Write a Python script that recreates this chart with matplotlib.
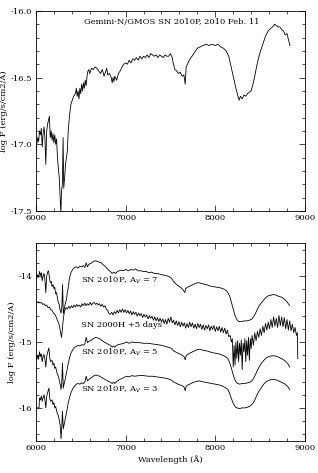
"""
Gemini-N/GMOS spectrum of SN 2010P and comparison with SN 2000H.
"""
import numpy as np
import matplotlib.pyplot as plt
from matplotlib.ticker import MultipleLocator

plt.rcParams['font.family'] = 'DejaVu Serif'
plt.rcParams['font.size'] = 6
plt.rcParams['axes.unicode_minus'] = False

# --- top panel: SN 2010P, 2010 Feb. 11 (wavelength in A, log F) ---
wave_2010p = [6000, 6010, 6020, 6030, 6040, 6050, 6060, 6070, 6080, 6090, 6100, 6110,
              6120, 6130, 6140, 6150, 6160, 6170, 6180, 6190, 6200, 6210, 6220, 6230,
              6240, 6250, 6260, 6270, 6278, 6285, 6295, 6303, 6310, 6320, 6330, 6340,
              6350, 6360, 6370, 6380, 6390, 6400, 6420, 6440, 6450, 6460, 6470, 6480,
              6490, 6500, 6510, 6520, 6530, 6540, 6550, 6560, 6570, 6580, 6590, 6600,
              6620, 6640, 6660, 6680, 6700, 6720, 6740, 6760, 6780, 6790, 6800, 6820,
              6840, 6850, 6860, 6870, 6880, 6900, 6920, 6940, 6960, 6980, 7000, 7020,
              7040, 7060, 7080, 7100, 7120, 7140, 7160, 7180, 7200, 7220, 7240, 7260,
              7280, 7300, 7320, 7340, 7360, 7380, 7400, 7420, 7440, 7460, 7480, 7500,
              7520, 7530, 7550, 7570, 7590, 7610, 7630, 7650, 7665, 7675, 7690, 7710,
              7740, 7770, 7800, 7830, 7860, 7900, 7930, 7960, 8000, 8030, 8060, 8090,
              8120, 8150, 8170, 8190, 8210, 8230, 8250, 8265, 8280, 8300, 8320, 8340,
              8360, 8380, 8400, 8420, 8440, 8460, 8480, 8500, 8530, 8560, 8590, 8620,
              8640, 8660, 8680, 8700, 8720, 8740, 8760, 8780, 8800, 8810, 8833]
flux_2010p = [-17.05, -17.00, -16.95, -16.98, -16.90, -16.93, -16.88, -17.02, -16.92, -16.87,
              -16.95, -17.15, -16.90, -16.85, -16.82, -16.79, -16.95, -16.90, -16.97, -16.92,
              -16.99, -16.93, -17.00, -16.96, -17.10, -17.18, -17.25, -17.40, -17.52, -17.35,
              -17.30, -16.95, -17.33, -17.25, -17.15, -17.10, -17.05, -16.90, -16.82, -16.75,
              -16.70, -16.68, -16.64, -16.62, -16.58, -16.64, -16.60, -16.66, -16.58, -16.62,
              -16.55, -16.60, -16.54, -16.58, -16.52, -16.56, -16.49, -16.45, -16.44, -16.47,
              -16.43, -16.44, -16.42, -16.43, -16.45, -16.47, -16.44, -16.49, -16.45, -16.43,
              -16.48, -16.47, -16.50, -16.54, -16.50, -16.53, -16.49, -16.52, -16.47, -16.45,
              -16.42, -16.40, -16.39, -16.40, -16.37, -16.39, -16.36, -16.37, -16.35, -16.37,
              -16.34, -16.36, -16.34, -16.35, -16.33, -16.35, -16.32, -16.33, -16.34, -16.33,
              -16.35, -16.33, -16.34, -16.35, -16.33, -16.34, -16.34, -16.32, -16.35, -16.39,
              -16.44, -16.45, -16.47, -16.46, -16.49, -16.48, -16.55, -16.42, -16.40, -16.37,
              -16.34, -16.31, -16.28, -16.27, -16.26, -16.25, -16.26, -16.25, -16.26, -16.25,
              -16.27, -16.28, -16.30, -16.34, -16.40, -16.46, -16.52, -16.58, -16.63, -16.67,
              -16.64, -16.66, -16.63, -16.64, -16.62, -16.61, -16.60, -16.55, -16.49, -16.42,
              -16.36, -16.31, -16.25, -16.19, -16.15, -16.13, -16.12, -16.10, -16.11, -16.12,
              -16.12, -16.14, -16.15, -16.18, -16.17, -16.20, -16.26]

# --- bottom panel: SN 2010P dereddened with A_V = 7 ---
wave_av7 = [6000, 6010, 6020, 6030, 6040, 6050, 6060, 6070, 6080, 6090, 6100, 6110,
            6120, 6130, 6140, 6150, 6160, 6170, 6180, 6190, 6200, 6210, 6220, 6230,
            6240, 6250, 6260, 6270, 6280, 6290, 6297, 6305, 6315, 6330, 6340, 6350,
            6360, 6370, 6380, 6390, 6410, 6430, 6450, 6470, 6490, 6510, 6530, 6545,
            6560, 6575, 6590, 6610, 6630, 6650, 6670, 6690, 6710, 6730, 6750, 6770,
            6790, 6810, 6830, 6850, 6870, 6890, 6910, 6930, 6950, 6970, 7000, 7030,
            7060, 7090, 7110, 7140, 7170, 7200, 7230, 7260, 7290, 7320, 7350, 7380,
            7410, 7440, 7470, 7500, 7520, 7540, 7560, 7590, 7620, 7640, 7660, 7670,
            7690, 7720, 7750, 7780, 7810, 7840, 7870, 7900, 7940, 7980, 8020, 8060,
            8100, 8130, 8160, 8180, 8200, 8220, 8240, 8260, 8290, 8320, 8350, 8380,
            8410, 8430, 8450, 8470, 8500, 8530, 8560, 8590, 8620, 8650, 8680, 8710,
            8740, 8770, 8800, 8830]
flux_av7 = [-13.97, -14.03, -13.98, -14.02, -13.93, -13.99, -13.95, -14.07, -14.00, -13.96,
            -14.05, -14.25, -14.00, -13.94, -13.92, -14.02, -14.10, -14.08, -14.16, -14.13,
            -14.19, -14.17, -14.27, -14.25, -14.34, -14.40, -14.44, -14.52, -14.56, -14.45,
            -14.13, -14.57, -14.50, -14.40, -14.36, -14.25, -14.18, -14.07, -14.00, -13.95,
            -13.90, -13.87, -13.86, -13.88, -13.85, -13.86, -13.84, -13.87, -13.80, -13.86,
            -13.82, -13.81, -13.79, -13.77, -13.77, -13.78, -13.79, -13.80, -13.83, -13.85,
            -13.88, -13.91, -13.93, -13.96, -13.94, -13.96, -13.93, -13.92, -13.91, -13.92,
            -13.90, -13.92, -13.90, -13.91, -13.89, -13.92, -13.92, -13.93, -13.93, -13.95,
            -13.94, -13.96, -13.96, -13.97, -13.98, -13.99, -14.00, -14.02, -14.05, -14.09,
            -14.12, -14.15, -14.18, -14.21, -14.25, -14.19, -14.17, -14.15, -14.13, -14.11,
            -14.10, -14.11, -14.12, -14.13, -14.15, -14.16, -14.17, -14.18, -14.20, -14.23,
            -14.30, -14.40, -14.50, -14.60, -14.66, -14.69, -14.69, -14.68, -14.68, -14.67,
            -14.65, -14.61, -14.56, -14.50, -14.43, -14.38, -14.33, -14.30, -14.29, -14.28,
            -14.29, -14.31, -14.32, -14.35, -14.39, -14.45]

# --- bottom panel: SN 2000H at +5 days ---
wave_2000h = [6000, 6015, 6030, 6045, 6060, 6075, 6090, 6105, 6120, 6135, 6150, 6165,
              6180, 6195, 6210, 6225, 6240, 6255, 6265, 6275, 6285, 6292, 6300, 6310,
              6320, 6335, 6350, 6365, 6380, 6395, 6410, 6425, 6440, 6455, 6470, 6485,
              6500, 6515, 6530, 6545, 6560, 6575, 6590, 6605, 6620, 6635, 6650, 6665,
              6680, 6695, 6710, 6725, 6740, 6755, 6770, 6785, 6800, 6815, 6830, 6845,
              6860, 6875, 6890, 6905, 6920, 6935, 6950, 6965, 6980, 6995, 7010, 7025,
              7040, 7055, 7070, 7085, 7100, 7115, 7130, 7145, 7160, 7175, 7190, 7205,
              7220, 7235, 7250, 7265, 7280, 7295, 7310, 7325, 7340, 7355, 7370, 7385,
              7400, 7415, 7430, 7445, 7460, 7475, 7490, 7505, 7520, 7535, 7550, 7565,
              7580, 7595, 7610, 7625, 7640, 7655, 7670, 7685, 7700, 7715, 7730, 7745,
              7760, 7775, 7790, 7805, 7820, 7835, 7850, 7865, 7880, 7895, 7910, 7925,
              7940, 7955, 7970, 7985, 8000, 8015, 8030, 8045, 8060, 8075, 8090, 8105,
              8120, 8135, 8150, 8165, 8180, 8190, 8200, 8210, 8220, 8230, 8240, 8250,
              8260, 8270, 8280, 8290, 8300, 8310, 8320, 8330, 8340, 8350, 8360, 8370,
              8380, 8390, 8400, 8410, 8425, 8440, 8455, 8470, 8485, 8500, 8515, 8530,
              8545, 8560, 8575, 8590, 8605, 8620, 8635, 8650, 8665, 8680, 8695, 8710,
              8725, 8740, 8755, 8770, 8785, 8800, 8815, 8830, 8845, 8860, 8875, 8890,
              8905, 8915, 8920]
flux_2000h = [-14.38, -14.40, -14.39, -14.41, -14.40, -14.43, -14.42, -14.45, -14.44, -14.48,
              -14.47, -14.51, -14.52, -14.56, -14.58, -14.62, -14.67, -14.72, -14.78, -14.86,
              -14.93, -14.85, -14.72, -14.60, -14.53, -14.48, -14.50, -14.46, -14.49, -14.45,
              -14.48, -14.44, -14.47, -14.43, -14.46, -14.44, -14.47, -14.42, -14.45, -14.41,
              -14.45, -14.42, -14.44, -14.40, -14.44, -14.41, -14.40, -14.43, -14.41, -14.44,
              -14.42, -14.46, -14.43, -14.47, -14.45, -14.50, -14.52, -14.57, -14.58, -14.55,
              -14.59, -14.54, -14.57, -14.52, -14.56, -14.51, -14.55, -14.50, -14.55, -14.51,
              -14.56, -14.52, -14.57, -14.53, -14.59, -14.54, -14.58, -14.55, -14.61, -14.56,
              -14.60, -14.57, -14.63, -14.58, -14.62, -14.59, -14.65, -14.60, -14.64, -14.61,
              -14.67, -14.62, -14.68, -14.63, -14.69, -14.64, -14.70, -14.65, -14.72, -14.66,
              -14.73, -14.64, -14.70, -14.62, -14.71, -14.67, -14.74, -14.68, -14.75, -14.69,
              -14.77, -14.70, -14.76, -14.71, -14.79, -14.72, -14.78, -14.70, -14.77, -14.71,
              -14.79, -14.73, -14.80, -14.72, -14.78, -14.73, -14.81, -14.74, -14.82, -14.75,
              -14.80, -14.74, -14.83, -14.76, -14.81, -14.75, -14.84, -14.77, -14.83, -14.76,
              -14.85, -14.78, -14.86, -14.79, -14.88, -14.82, -14.92, -14.90, -15.00, -14.95,
              -15.38, -15.05, -15.35, -15.00, -15.25, -14.98, -15.30, -15.02, -15.20, -14.97,
              -15.42, -15.02, -15.15, -14.95, -15.30, -14.98, -15.20, -14.93, -15.28, -14.95,
              -15.10, -14.90, -15.05, -14.86, -14.98, -14.84, -14.93, -14.80, -14.90, -14.76,
              -14.86, -14.72, -14.82, -14.70, -14.80, -14.66, -14.78, -14.62, -14.76, -14.64,
              -14.78, -14.60, -14.75, -14.62, -14.77, -14.63, -14.80, -14.66, -14.82, -14.68,
              -14.83, -14.73, -14.86, -14.78, -14.90, -14.86, -15.25]

# --- bottom panel: SN 2010P dereddened with A_V = 5 ---
wave_av5 = [6000, 6010, 6020, 6030, 6040, 6050, 6060, 6070, 6080, 6090, 6100, 6110,
            6120, 6130, 6145, 6155, 6165, 6180, 6190, 6200, 6210, 6220, 6235, 6250,
            6260, 6270, 6280, 6288, 6296, 6305, 6315, 6330, 6345, 6360, 6375, 6390,
            6410, 6430, 6450, 6470, 6490, 6510, 6530, 6545, 6560, 6575, 6590, 6610,
            6630, 6650, 6670, 6690, 6710, 6730, 6750, 6770, 6790, 6810, 6830, 6850,
            6865, 6880, 6900, 6920, 6950, 6980, 7010, 7040, 7070, 7100, 7150, 7200,
            7250, 7300, 7350, 7400, 7450, 7500, 7520, 7540, 7570, 7600, 7630, 7650,
            7665, 7675, 7700, 7730, 7760, 7790, 7820, 7850, 7880, 7920, 7960, 8000,
            8040, 8080, 8110, 8140, 8160, 8180, 8200, 8220, 8240, 8270, 8300, 8330,
            8360, 8390, 8420, 8440, 8460, 8480, 8510, 8540, 8570, 8600, 8630, 8660,
            8690, 8720, 8750, 8780, 8810, 8830]
flux_av5 = [-15.22, -15.27, -15.20, -15.26, -15.15, -15.22, -15.18, -15.30, -15.22, -15.19,
            -15.26, -15.38, -15.22, -15.16, -15.09, -15.25, -15.30, -15.28, -15.35, -15.32,
            -15.40, -15.38, -15.47, -15.52, -15.58, -15.64, -15.72, -15.62, -15.32, -15.70,
            -15.63, -15.54, -15.44, -15.33, -15.24, -15.17, -15.12, -15.08, -15.07, -15.05,
            -15.06, -15.04, -15.05, -15.03, -14.93, -15.01, -14.99, -14.98, -14.96, -14.94,
            -14.93, -14.94, -14.95, -14.97, -14.99, -15.01, -15.02, -15.04, -15.05, -15.08,
            -15.06, -15.08, -15.05, -15.04, -15.03, -15.02, -15.00, -15.02, -15.00, -15.01,
            -15.01, -15.02, -15.02, -15.03, -15.04, -15.05, -15.07, -15.09, -15.11, -15.14,
            -15.16, -15.18, -15.20, -15.22, -15.27, -15.21, -15.18, -15.16, -15.14, -15.12,
            -15.11, -15.12, -15.13, -15.14, -15.16, -15.17, -15.18, -15.20, -15.22, -15.25,
            -15.31, -15.40, -15.50, -15.58, -15.62, -15.64, -15.63, -15.63, -15.62, -15.61,
            -15.57, -15.52, -15.46, -15.40, -15.33, -15.28, -15.24, -15.22, -15.21, -15.21,
            -15.22, -15.24, -15.26, -15.29, -15.33, -15.38]

# --- bottom panel: SN 2010P dereddened with A_V = 3 ---
wave_av3 = [6000, 6035, 6040, 6050, 6060, 6070, 6080, 6090, 6100, 6110, 6120, 6130,
            6145, 6155, 6165, 6180, 6190, 6200, 6210, 6220, 6235, 6250, 6260, 6270,
            6280, 6288, 6296, 6305, 6315, 6330, 6345, 6360, 6375, 6390, 6410, 6430,
            6450, 6470, 6490, 6510, 6530, 6545, 6560, 6575, 6590, 6610, 6630, 6650,
            6670, 6690, 6710, 6730, 6750, 6770, 6790, 6810, 6830, 6850, 6865, 6880,
            6900, 6920, 6950, 6980, 7010, 7040, 7070, 7100, 7150, 7200, 7250, 7300,
            7350, 7400, 7450, 7500, 7520, 7540, 7570, 7600, 7630, 7650, 7665, 7675,
            7700, 7730, 7760, 7790, 7820, 7850, 7880, 7920, 7960, 8000, 8040, 8080,
            8110, 8140, 8160, 8180, 8200, 8220, 8240, 8270, 8300, 8330, 8360, 8390,
            8420, 8440, 8460, 8480, 8510, 8540, 8570, 8600, 8630, 8660, 8690, 8720,
            8750, 8780, 8810, 8830]
flux_av3 = [-16.00, -16.00, -15.85, -15.88, -15.82, -15.90, -15.84, -15.80, -15.88, -16.00,
            -15.82, -15.77, -15.70, -15.86, -15.90, -15.88, -15.95, -15.92, -16.00, -15.98,
            -16.07, -16.12, -16.18, -16.26, -16.47, -16.28, -16.05, -16.32, -16.25, -16.15,
            -16.04, -15.93, -15.84, -15.77, -15.71, -15.67, -15.64, -15.63, -15.64, -15.62,
            -15.63, -15.61, -15.52, -15.59, -15.57, -15.55, -15.53, -15.51, -15.50, -15.51,
            -15.52, -15.54, -15.55, -15.57, -15.58, -15.60, -15.61, -15.63, -15.61, -15.63,
            -15.60, -15.58, -15.56, -15.54, -15.52, -15.53, -15.51, -15.52, -15.51, -15.51,
            -15.52, -15.52, -15.53, -15.54, -15.55, -15.57, -15.59, -15.61, -15.63, -15.65,
            -15.66, -15.68, -15.74, -15.67, -15.65, -15.63, -15.61, -15.60, -15.59, -15.60,
            -15.61, -15.62, -15.63, -15.64, -15.65, -15.67, -15.69, -15.72, -15.78, -15.86,
            -15.93, -15.98, -16.00, -16.01, -16.00, -16.00, -15.99, -15.97, -15.93, -15.88,
            -15.82, -15.76, -15.70, -15.64, -15.60, -15.58, -15.57, -15.57, -15.58, -15.60,
            -15.62, -15.64, -15.68, -15.72]

title_top = 'Gemini-N/GMOS SN 2010P, 2010 Feb. 11'
labels_bottom = ['SN 2010P, A$_V$ = 7', 'SN 2000H +5 days',
                 'SN 2010P, A$_V$ = 5', 'SN 2010P, A$_V$ = 3']
label_flux = [-14.07, -14.74, -15.16, -15.72]

fig = plt.figure(figsize=(3.18, 4.73), dpi=100)
ax1 = fig.add_axes([0.113, 0.554, 0.846, 0.423])
ax2 = fig.add_axes([0.113, 0.068, 0.846, 0.418])

lw = 0.6
ax1.plot(wave_2010p, flux_2010p, color='black', lw=lw)
ax1.set_xlim(6000, 9000)
ax1.set_ylim(-17.5, -16)
ax1.yaxis.set_major_locator(MultipleLocator(0.5))
ax1.yaxis.set_minor_locator(MultipleLocator(0.1))
ax1.text(7520, -16.08, title_top, ha='center', va='center')
ax1.set_ylabel('log F (erg/s/cm2/A)', labelpad=2)

for w, f in [(wave_av7, flux_av7), (wave_2000h, flux_2000h),
             (wave_av5, flux_av5), (wave_av3, flux_av3)]:
    ax2.plot(w, f, color='black', lw=lw)
for lab, y in zip(labels_bottom, label_flux):
    ax2.text(6500, y, lab, ha='left', va='center')
ax2.set_xlim(6000, 9000)
ax2.set_ylim(-16.5, -13.5)
ax2.yaxis.set_major_locator(MultipleLocator(1))
ax2.yaxis.set_minor_locator(MultipleLocator(0.2))
ax2.set_ylabel('log F (erg/s/cm2/A)', labelpad=2)
ax2.set_xlabel('Wavelength (Å)', labelpad=2)

for ax in (ax1, ax2):
    ax.xaxis.set_major_locator(MultipleLocator(1000))
    ax.xaxis.set_minor_locator(MultipleLocator(200))
    ax.tick_params(which='both', direction='in', top=True, right=True, width=0.5)
    ax.tick_params(which='major', length=4, pad=2.5)
    ax.tick_params(which='minor', length=2)
    for s in ax.spines.values():
        s.set_linewidth(0.6)

fig.savefig('out.png', dpi=100)
